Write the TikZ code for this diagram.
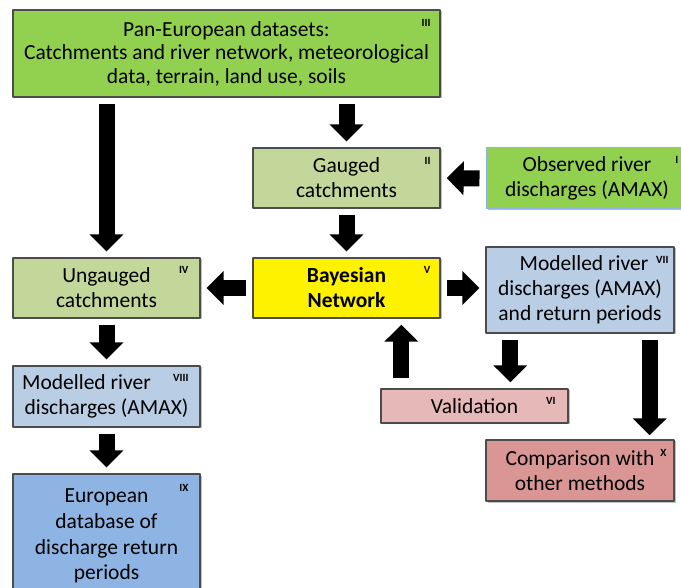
\documentclass[tikz,border=0pt]{standalone}
\usepackage{fontspec}
\setmainfont{Carlito}
\usetikzlibrary{arrows.meta,shadows}
\definecolor{grnA}{HTML}{92D050}
\definecolor{grnB}{HTML}{C4D79B}
\definecolor{bluA}{HTML}{B9CDE5}
\definecolor{bluB}{HTML}{8EB4E3}
\definecolor{redA}{HTML}{E6B9B8}
\definecolor{redB}{HTML}{D99694}
\begin{document}
\begin{tikzpicture}[x=1pt,y=-1pt,line join=round,
	box/.style={draw=black!70,line width=1.3pt,inner sep=0pt,align=center,
		font=\fontsize{21.5}{25}\selectfont,
		drop shadow={shadow xshift=1.5pt,shadow yshift=-1.5pt,fill=black,opacity=0.25}},
	num/.style={anchor=north east,inner sep=0pt,font=\fontsize{11}{11}\selectfont\bfseries},
	fat/.style={line width=16pt,shorten <=6pt,shorten >=6pt,-{Triangle[width=33pt,length=17pt]}}]
	\useasboundingbox (0,0) rectangle (681,588);
	\node[box,fill=grnA,minimum width=427pt,minimum height=87pt,font=\fontsize{21.5}{23.5}\selectfont] (iii) at (226.5,53.5)
		{Pan-European datasets:\\Catchments and river network, meteorological\\data, terrain, land use, soils};
	\node[box,fill=grnB,minimum width=187pt,minimum height=60pt] (ii) at (346.5,178) {Gauged\\catchments};
	\node[box,fill=grnA,draw=bluB,line width=1pt,minimum width=202pt,minimum height=61pt] (i) at (587,178.5)
		{Observed river\\discharges (AMAX)};
	\node[box,fill=grnB,minimum width=187pt,minimum height=60pt] (iv) at (106.5,288) {Ungauged\\catchments};
	\node[box,fill=yellow,minimum width=187pt,minimum height=60pt] (v) at (346.5,288) {\bfseries Bayesian\\\bfseries Network};
	\node[box,fill=bluA,minimum width=188pt,minimum height=86pt] (vii) at (580,290)
		{\hspace*{8pt}Modelled river\\discharges (AMAX)\\and return periods};
	\node[box,fill=bluA,minimum width=187pt,minimum height=61pt] (viii) at (106.5,396.5)
		{Modelled river\hspace*{40pt}\\discharges (AMAX)};
	\node[box,fill=bluB,minimum width=187pt,minimum height=124pt,font=\fontsize{21.5}{25.7}\selectfont] (ix) at (106.5,536)
		{European\\database of\\discharge return\\periods};
	\node[box,fill=redA,minimum width=187pt,minimum height=34pt] (vi) at (474.5,406) {Validation};
	\node[box,fill=redB,minimum width=188pt,minimum height=61pt] (x) at (580,470.5) {Comparison with\\other methods};
	% roman numerals
	\node[num] (niii) at ([xshift=-10pt,yshift=-10pt]iii.north east) {III};
	\node[num] (nii) at ([xshift=-10pt,yshift=-10pt]ii.north east) {II};
	\node[num] (ni) at ([xshift=-10pt,yshift=-9pt]i.north east) {I};
	\node[num] (niv) at ([xshift=-12pt,yshift=-9pt]iv.north east) {IV};
	\node[num] (nv) at ([xshift=-10pt,yshift=-9pt]v.north east) {V};
	\node[num] (nvii) at ([xshift=-6pt,yshift=-10pt]vii.north east) {VII};
	\node[num] (nviii) at ([xshift=-12pt,yshift=-9pt]viii.north east) {VIII};
	\node[num] (nix) at ([xshift=-12pt,yshift=-11pt]ix.north east) {IX};
	\node[num] (nvi) at ([xshift=-13pt,yshift=-9pt]vi.north east) {VI};
	\node[num] (nx) at ([xshift=-8pt,yshift=-10pt]x.north east) {X};
	% arrows
	\draw[fat] (iii.south -| iv.north) -- (iv.north);
	\draw[fat] (iii.south -| ii.north) -- (ii.north);
	\draw[fat] (i.west) -- (ii.east);
	\draw[fat] (ii.south) -- (v.north);
	\draw[fat] (v.west) -- (iv.east);
	\draw[fat] (v.east) -- (vii.west |- v.east);
	\draw[fat,shorten <=10pt] ([xshift=21pt]vi.north west) -- ([xshift=21pt]vi.north west |- v.south);
	\draw[fat] ([xshift=25pt]vii.south west) -- ([xshift=25pt]vii.south west |- vi.north);
	\draw[fat,shorten >=4pt] ([xshift=-25pt]vii.south east) -- ([xshift=-25pt]vii.south east |- x.north);
	\draw[fat] (iv.south) -- (viii.north);
	\draw[fat] (viii.south) -- (ix.north);
\end{tikzpicture}
\end{document}
